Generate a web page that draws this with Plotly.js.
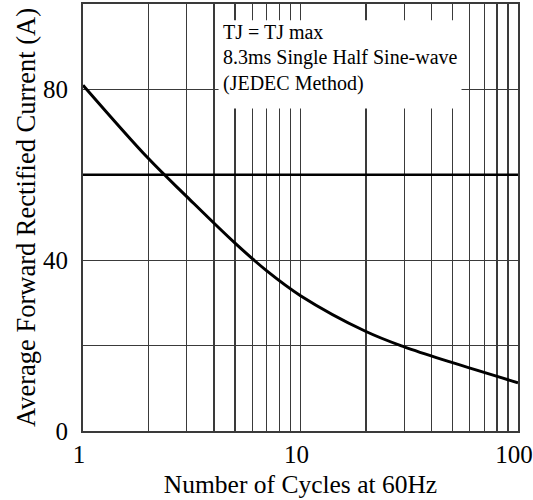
<!DOCTYPE html>
<html>
<head>
<meta charset="utf-8">
<script src="https://cdn.plot.ly/plotly-3.0.1.min.js"></script>
<style>html,body{margin:0;padding:0;background:#fff;}#chart{width:533px;height:500px;}</style>
</head>
<body>
<div id="chart"></div>
<script>
// Data
const cycles = [1, 2, 3, 5, 7, 10, 20, 30, 50, 100];
const current = [81, 63.8, 54.9, 44.0, 37.5, 31.7, 23.3, 19.7, 16.0, 11.3];
const ratedX = [1, 100];
const ratedY = [60, 60];
const xTickVals = [1,2,3,4,5,6,7,8,9,10,20,30,40,50,60,70,80,90,100];
const xTickText = ['1','','','','','','','','','10','','','','','','','','','100'];
const yTickVals = [0, 20, 40, 60, 80, 100];
const yTickText = ['0', '', '40', '', '80', ''];
const noteLines = ['TJ = TJ max', '8.3ms Single Half Sine-wave', '(JEDEC Method)'];
const noteY = [93.4, 87.5, 81.4];

const serif = 'Liberation Serif, Times New Roman, serif';
const gridCol = '#3a3a3a';

const traces = [
  {x: cycles, y: current, mode: 'lines', line: {color: '#000', width: 3, shape: 'spline', smoothing: 1}, hoverinfo: 'skip'},
  {x: ratedX, y: ratedY, mode: 'lines', line: {color: '#000', width: 2.5}, hoverinfo: 'skip'}
];

const annotations = noteLines.map((t, i) => ({
  xref: 'x', yref: 'y', x: Math.log10(4.3), y: noteY[i], xanchor: 'left', yanchor: 'middle',
  align: 'left', showarrow: false, text: t,
  font: {family: serif, size: 20, color: '#000'}
}));

const layout = {
  width: 533, height: 500,
  margin: {l: 83, r: 15, t: 4, b: 69},
  paper_bgcolor: '#fff', plot_bgcolor: '#fff',
  showlegend: false,
  font: {family: serif, color: '#000'},
  xaxis: {
    type: 'log', range: [0, 2],
    tickvals: xTickVals, ticktext: xTickText,
    showgrid: true, gridcolor: gridCol, gridwidth: 1.2,
    showline: true, linecolor: gridCol, linewidth: 2, mirror: true,
    ticks: '', zeroline: false,
    ticklabelshift: -4, ticklabeloverflow: 'allow',
    tickfont: {family: serif, size: 25, color: '#000'},
    title: {text: 'Number of Cycles at 60Hz', font: {family: serif, size: 25.5, color: '#000'}, standoff: 8}
  },
  yaxis: {
    range: [0, 100],
    tickvals: yTickVals, ticktext: yTickText,
    showgrid: true, gridcolor: gridCol, gridwidth: 1.2,
    showline: true, linecolor: gridCol, linewidth: 2, mirror: true,
    ticks: '', zeroline: false,
    ticklabelstandoff: 8,
    tickfont: {family: serif, size: 25, color: '#000'},
    title: {text: 'Average Forward Rectified Current (A)', font: {family: serif, size: 26.5, color: '#000'}, standoff: 0}
  },
  shapes: [
    {type: 'rect', xref: 'x', yref: 'y', x0: 4.2, x1: 55, y0: 75.5, y1: 96.2,
     fillcolor: '#fff', line: {width: 0}, layer: 'above'}
  ],
  annotations: annotations
};

Plotly.newPlot('chart', traces, layout, {displayModeBar: false, staticPlot: true});
</script>
</body>
</html>
